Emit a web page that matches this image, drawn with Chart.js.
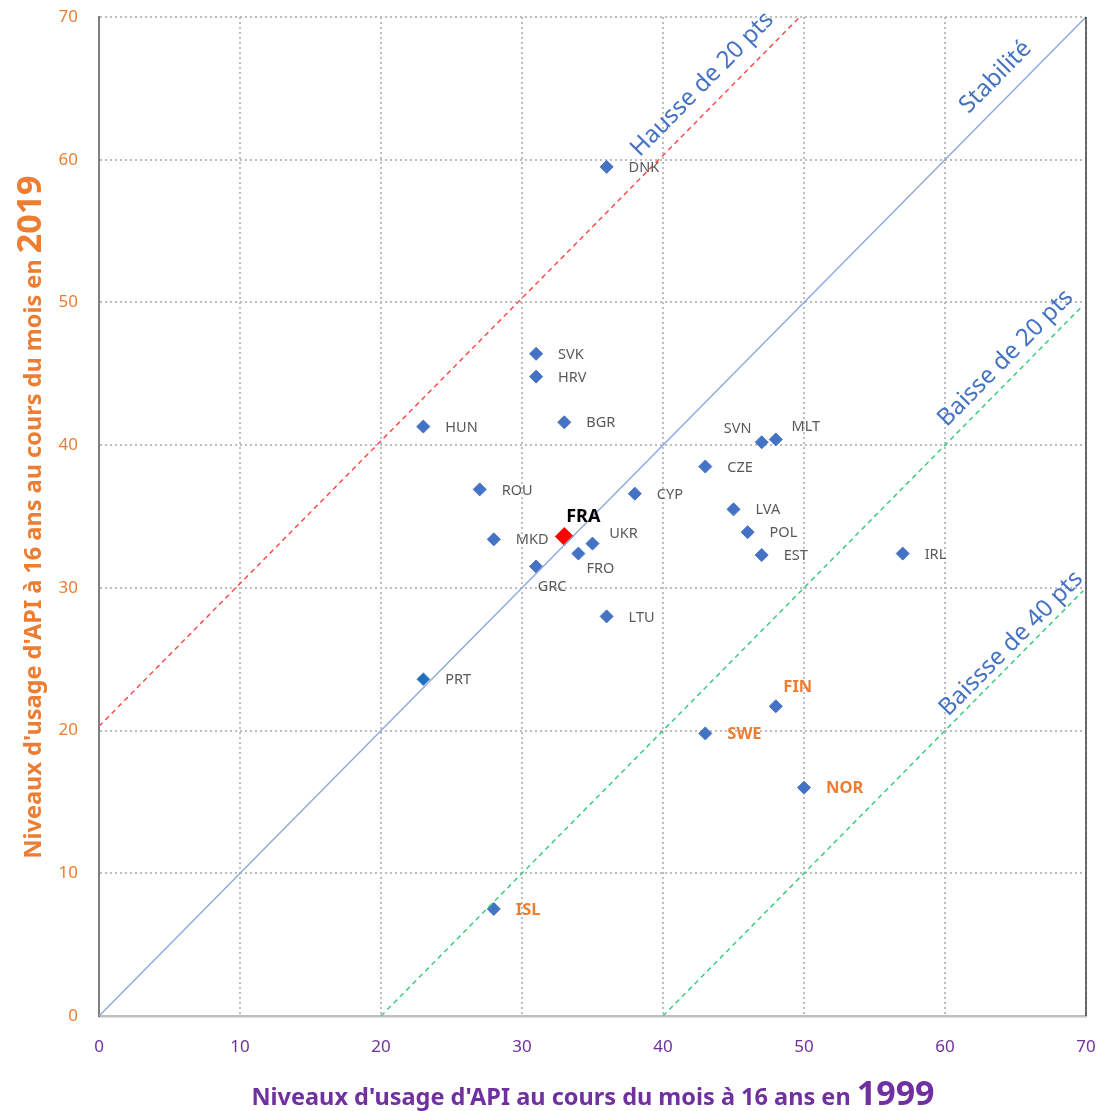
<!DOCTYPE html>
<html>
<head>
<meta charset="utf-8">
<script src="https://cdn.jsdelivr.net/npm/chart.js@4.4.1/dist/chart.umd.min.js"></script>
<style>
  html, body { margin: 0; padding: 0; background: #fff; }
  #wrap { width: 1101px; height: 1111px; }
</style>
</head>
<body>
<div id="wrap"><canvas id="scatter" width="1101" height="1111"></canvas></div>
<script>
// Data
const countries = ['DNK','SVK','HRV','BGR','HUN','SVN','MLT','CZE','ROU','CYP','LVA','POL','UKR','MKD','FRO','EST','IRL','GRC','LTU','PRT','FIN','SWE','NOR','ISL'];
const usage1999 = [36, 31, 31, 33, 23, 47, 48, 43, 27, 38, 45, 46, 35, 28, 34, 47, 57, 31, 36, 23, 48, 43, 50, 28];
const usage2019 = [59.5, 46.4, 44.8, 41.6, 41.3, 40.2, 40.4, 38.5, 36.9, 36.6, 35.5, 33.9, 33.1, 33.4, 32.4, 32.3, 32.4, 31.5, 28.0, 23.6, 21.7, 19.8, 16.0, 7.5];
const franceName = ['FRA'];
const france1999 = [33];
const france2019 = [33.6];
const nordic = ['FIN','SWE','NOR','ISL'];

// Reference lines
const stabX = [0, 70], stabY = [0, 70];
const hausse20X = [0, 49.7], hausse20Y = [20.3, 70];
const baisse20X = [20, 69.6], baisse20Y = [0, 49.6];
const baisse40X = [40, 69.8], baisse40Y = [0, 29.8];
const lineTexts = ['Stabilité', 'Hausse de 20 pts', 'Baisse de 20 pts', 'Baissse de 40 pts'];

const axisTicks = [0, 10, 20, 30, 40, 50, 60, 70];

const toPts = (xs, ys) => xs.map((x, i) => ({x: x, y: ys[i]}));

// label placement tweaks (pixels, relative to the marker)
const labelTweaks = {
    SVN: [-24, -13, 'center'],
    MLT: [30, -13, 'center'],
    UKR: [31, -10, 'center'],
    FRO: [22, 15, 'center'],
    GRC: [16, 20, 'center'],
    FIN: [22, -19, 'center'],
    FRA: [19, -20, 'center']
};

const pointLabels = {
    id: 'pointLabels',
    afterDatasetsDraw(chart) {
        const ctx = chart.ctx;
        ctx.save();
        [4, 5].forEach(di => {
            const meta = chart.getDatasetMeta(di);
            const names = chart.data.datasets[di].names;
            meta.data.forEach((pt, i) => {
                const name = names[i];
                const tw = labelTweaks[name] || [22, 1, 'left'];
                if (name === 'FRA') {
                    ctx.font = 'bold 18px "Noto Sans"';
                    ctx.fillStyle = '#000';
                } else if (nordic.includes(name)) {
                    ctx.font = 'bold 16.5px "Noto Sans"';
                    ctx.fillStyle = '#ED7D31';
                } else {
                    ctx.font = '14.5px "Noto Sans"';
                    ctx.fillStyle = '#595959';
                }
                ctx.textAlign = tw[2];
                ctx.textBaseline = 'middle';
                ctx.fillText(name, pt.x + tw[0], pt.y + tw[1]);
            });
        });
        ctx.restore();
    }
};

// text written along the reference lines
const lineLabels = {
    id: 'lineLabels',
    afterDatasetsDraw(chart) {
        const ctx = chart.ctx;
        const xs = chart.scales.x, ys = chart.scales.y;
        const spots = [[0, 64.7, 22], [1, 43.9, 22], [2, 65.2, 18], [3, 65.4, 14]];
        ctx.save();
        ctx.font = '24px "Noto Sans"';
        ctx.fillStyle = '#4472C4';
        ctx.textAlign = 'center';
        ctx.textBaseline = 'middle';
        spots.forEach(([di, xAt, perp]) => {
            const d = chart.data.datasets[di].data;
            const x1 = xs.getPixelForValue(d[0].x), y1 = ys.getPixelForValue(d[0].y);
            const x2 = xs.getPixelForValue(d[1].x), y2 = ys.getPixelForValue(d[1].y);
            const len = Math.hypot(x2 - x1, y2 - y1);
            const ux = (x2 - x1) / len, uy = (y2 - y1) / len;
            const slope = (d[1].y - d[0].y) / (d[1].x - d[0].x);
            const yAt = d[0].y + slope * (xAt - d[0].x);
            const cx = xs.getPixelForValue(xAt) + uy * perp;
            const cy = ys.getPixelForValue(yAt) - ux * perp;
            ctx.save();
            ctx.translate(cx, cy);
            ctx.rotate(Math.atan2(uy, ux));
            ctx.fillText(lineTexts[di], 0, 0);
            ctx.restore();
        });
        ctx.restore();
    }
};

// axis titles with the year set larger, plus the dark right frame line
const axisTitles = {
    id: 'axisTitles',
    afterDraw(chart) {
        const ctx = chart.ctx;
        const area = chart.chartArea;
        ctx.save();
        ctx.strokeStyle = '#404040';
        ctx.lineWidth = 1.5;
        ctx.beginPath();
        ctx.moveTo(area.right, area.top);
        ctx.lineTo(area.right, area.bottom);
        ctx.stroke();

        const drawTitle = (a, b, color) => {
            ctx.font = 'bold 23.5px "Noto Sans"';
            const wa = ctx.measureText(a).width;
            ctx.font = 'bold 34px "Noto Sans"';
            const wb = ctx.measureText(b).width;
            const start = -(wa + wb) / 2;
            ctx.fillStyle = color;
            ctx.textAlign = 'left';
            ctx.textBaseline = 'alphabetic';
            ctx.font = 'bold 23.5px "Noto Sans"';
            ctx.fillText(a, start, 0);
            ctx.font = 'bold 34px "Noto Sans"';
            ctx.fillText(b, start + wa, 0);
        };

        ctx.save();
        ctx.translate(593, 1105);
        drawTitle("Niveaux d'usage d'API au cours du mois à 16 ans en ", '1999', '#7030A0');
        ctx.restore();

        ctx.save();
        ctx.translate(41, 517);
        ctx.rotate(-Math.PI / 2);
        drawTitle("Niveaux d'usage d'API à 16 ans au cours du mois en ", '2019', '#ED7D31');
        ctx.restore();
        ctx.restore();
    }
};

const noEdgePadding = s => {
    s.paddingTop = 0; s.paddingBottom = 0; s.paddingLeft = 0; s.paddingRight = 0;
};

const ctx = document.getElementById('scatter').getContext('2d');
new Chart(ctx, {
    type: 'scatter',
    data: {
        datasets: [
            { type: 'line', data: toPts(stabX, stabY), borderColor: '#8FAADC', borderWidth: 1.5, pointRadius: 0, fill: false },
            { type: 'line', data: toPts(hausse20X, hausse20Y), borderColor: '#FF4B4B', borderWidth: 1.5, borderDash: [5, 4], pointRadius: 0, fill: false },
            { type: 'line', data: toPts(baisse20X, baisse20Y), borderColor: '#3CCB7F', borderWidth: 1.5, borderDash: [5, 4], pointRadius: 0, fill: false },
            { type: 'line', data: toPts(baisse40X, baisse40Y), borderColor: '#3CCB7F', borderWidth: 1.5, borderDash: [5, 4], pointRadius: 0, fill: false },
            {
                names: countries,
                data: toPts(usage1999, usage2019),
                pointStyle: 'rectRot',
                pointRadius: 6.5,
                pointBackgroundColor: countries.map(c => c === 'PRT' ? '#1F6FBF' : '#4472C4'),
                pointBorderColor: countries.map(c => c === 'PRT' ? '#5B9BD5' : '#4472C4'),
                pointBorderWidth: 1
            },
            {
                names: franceName,
                data: toPts(france1999, france2019),
                pointStyle: 'rectRot',
                pointRadius: 9,
                pointBackgroundColor: '#FF0000',
                pointBorderColor: '#FF0000'
            }
        ]
    },
    options: {
        responsive: false,
        animation: false,
        devicePixelRatio: 1,
        layout: { padding: { top: 17, right: 15, left: 0, bottom: 0 } },
        plugins: { legend: { display: false }, tooltip: { enabled: false } },
        scales: {
            x: {
                type: 'linear', min: 0, max: 70,
                afterFit: s => { s.height = 95; noEdgePadding(s); },
                afterBuildTicks: s => { s.ticks = axisTicks.map(v => ({value: v})); },
                grid: { color: '#BDBDBD', lineWidth: 2, drawTicks: false },
                border: { color: '#BFBFBF', width: 2.5, dash: [2, 3] },
                ticks: { color: '#7030A0', padding: 21, font: { family: 'Noto Sans', size: 17 } }
            },
            y: {
                type: 'linear', min: 0, max: 70,
                afterFit: s => { s.width = 99; noEdgePadding(s); },
                afterBuildTicks: s => { s.ticks = axisTicks.map(v => ({value: v})); },
                grid: { color: '#BDBDBD', lineWidth: 2, drawTicks: false },
                border: { color: '#808080', width: 2, dash: [2, 3] },
                ticks: { color: '#ED7D31', padding: 21, font: { family: 'Noto Sans', size: 17 } }
            }
        }
    },
    plugins: [pointLabels, lineLabels, axisTitles]
});
</script>
</body>
</html>
